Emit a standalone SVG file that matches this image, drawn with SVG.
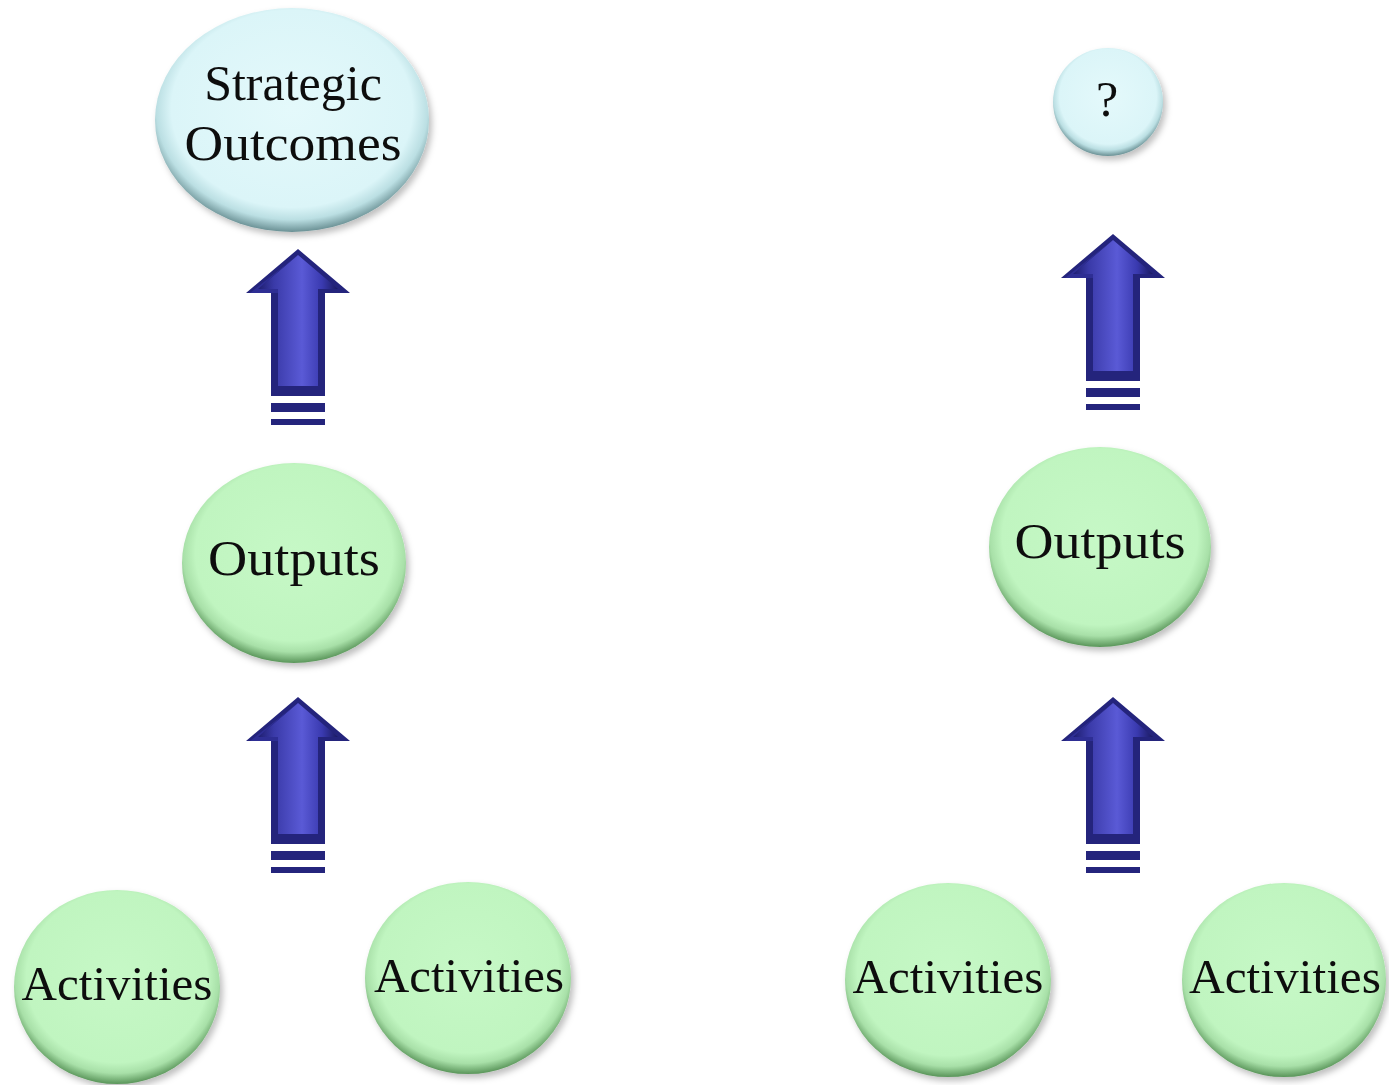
<svg xmlns="http://www.w3.org/2000/svg" width="1389" height="1085" viewBox="0 0 1389 1085">
<style>
.lbl{font-family:"Liberation Serif","Times New Roman",serif;fill:#111;text-anchor:middle}
.green{fill:url(#gGreen)}
.blue{fill:url(#gBlue)}
</style>
<defs>
<radialGradient id="gGreen" cx="0.5" cy="0.45" r="0.55">
<stop offset="0" stop-color="#c6f8c6"/>
<stop offset="0.8" stop-color="#c0f5c0"/>
<stop offset="0.9" stop-color="#a8e0a8"/>
<stop offset="1" stop-color="#5a955a"/>
</radialGradient>
<radialGradient id="gBlue" cx="0.5" cy="0.45" r="0.55">
<stop offset="0" stop-color="#e4f9fb"/>
<stop offset="0.8" stop-color="#dbf5f8"/>
<stop offset="0.9" stop-color="#bbdfe3"/>
<stop offset="1" stop-color="#6a9094"/>
</radialGradient>
<linearGradient id="gShaft" x1="0" y1="0" x2="1" y2="0">
<stop offset="0" stop-color="#1e1e70"/>
<stop offset="0.2" stop-color="#3a3aa8"/>
<stop offset="0.55" stop-color="#5a5ad6"/>
<stop offset="0.8" stop-color="#3a3ab0"/>
<stop offset="1" stop-color="#1a1a60"/>
</linearGradient>
<filter id="sh" x="-10%" y="-10%" width="125%" height="125%">
<feDropShadow dx="3" dy="4" stdDeviation="3" flood-color="#000" flood-opacity="0.25"/>
</filter>
<g id="arrow">
<polygon points="0,0 52,44 27,44 27,147 -27,147 -27,44 -52,44" fill="#24247c"/>
<polygon points="0,6 40,40 20,40 20,137 -20,137 -20,40 -40,40" fill="url(#gShaft)"/>
<polygon points="0,6 -40,40 -20,40 -20,44 -48,44" fill="#2e2e94"/>
<rect x="-27" y="154" width="54" height="9" fill="#24247c"/>
<rect x="-27" y="170" width="54" height="6" fill="#24247c"/>
</g>
</defs>
<rect width="1389" height="1085" fill="#fff"/>
<g id="connectors">
<use href="#arrow" transform="translate(298,249)"/>
<use href="#arrow" transform="translate(298,697)"/>
<use href="#arrow" transform="translate(1113,234)"/>
<use href="#arrow" transform="translate(1113,697)"/>
</g>
<g id="strategic-outcomes" filter="url(#sh)">
<ellipse cx="292" cy="120" rx="137" ry="112" class="blue"/>
<text class="lbl" x="293" y="100" font-size="50">Strategic</text>
<text class="lbl" x="293" y="160" font-size="50" textLength="217" lengthAdjust="spacingAndGlyphs">Outcomes</text>
</g>
<g id="question" filter="url(#sh)">
<ellipse cx="1108" cy="102" rx="55" ry="54" class="blue"/>
<text class="lbl" x="1107" y="116" font-size="50">?</text>
</g>
<g id="outputs-left" filter="url(#sh)">
<ellipse cx="294" cy="563" rx="112" ry="100" class="green"/>
<text class="lbl" x="294" y="575" font-size="50" textLength="172" lengthAdjust="spacingAndGlyphs">Outputs</text>
</g>
<g id="outputs-right" filter="url(#sh)">
<ellipse cx="1100" cy="547" rx="111" ry="100" class="green"/>
<text class="lbl" x="1100" y="558" font-size="50" textLength="171" lengthAdjust="spacingAndGlyphs">Outputs</text>
</g>
<g id="activities-1" filter="url(#sh)">
<ellipse cx="117" cy="987" rx="103" ry="97" class="green"/>
<text class="lbl" x="117" y="1000" font-size="49" textLength="191" lengthAdjust="spacingAndGlyphs">Activities</text>
</g>
<g id="activities-2" filter="url(#sh)">
<ellipse cx="468" cy="978" rx="103" ry="96" class="green"/>
<text class="lbl" x="469" y="992" font-size="49" textLength="190" lengthAdjust="spacingAndGlyphs">Activities</text>
</g>
<g id="activities-3" filter="url(#sh)">
<ellipse cx="948" cy="980" rx="103" ry="97" class="green"/>
<text class="lbl" x="948" y="993" font-size="49" textLength="191" lengthAdjust="spacingAndGlyphs">Activities</text>
</g>
<g id="activities-4" filter="url(#sh)">
<ellipse cx="1284" cy="980" rx="102" ry="97" class="green"/>
<text class="lbl" x="1285" y="993" font-size="49" textLength="192" lengthAdjust="spacingAndGlyphs">Activities</text>
</g>
</svg>
